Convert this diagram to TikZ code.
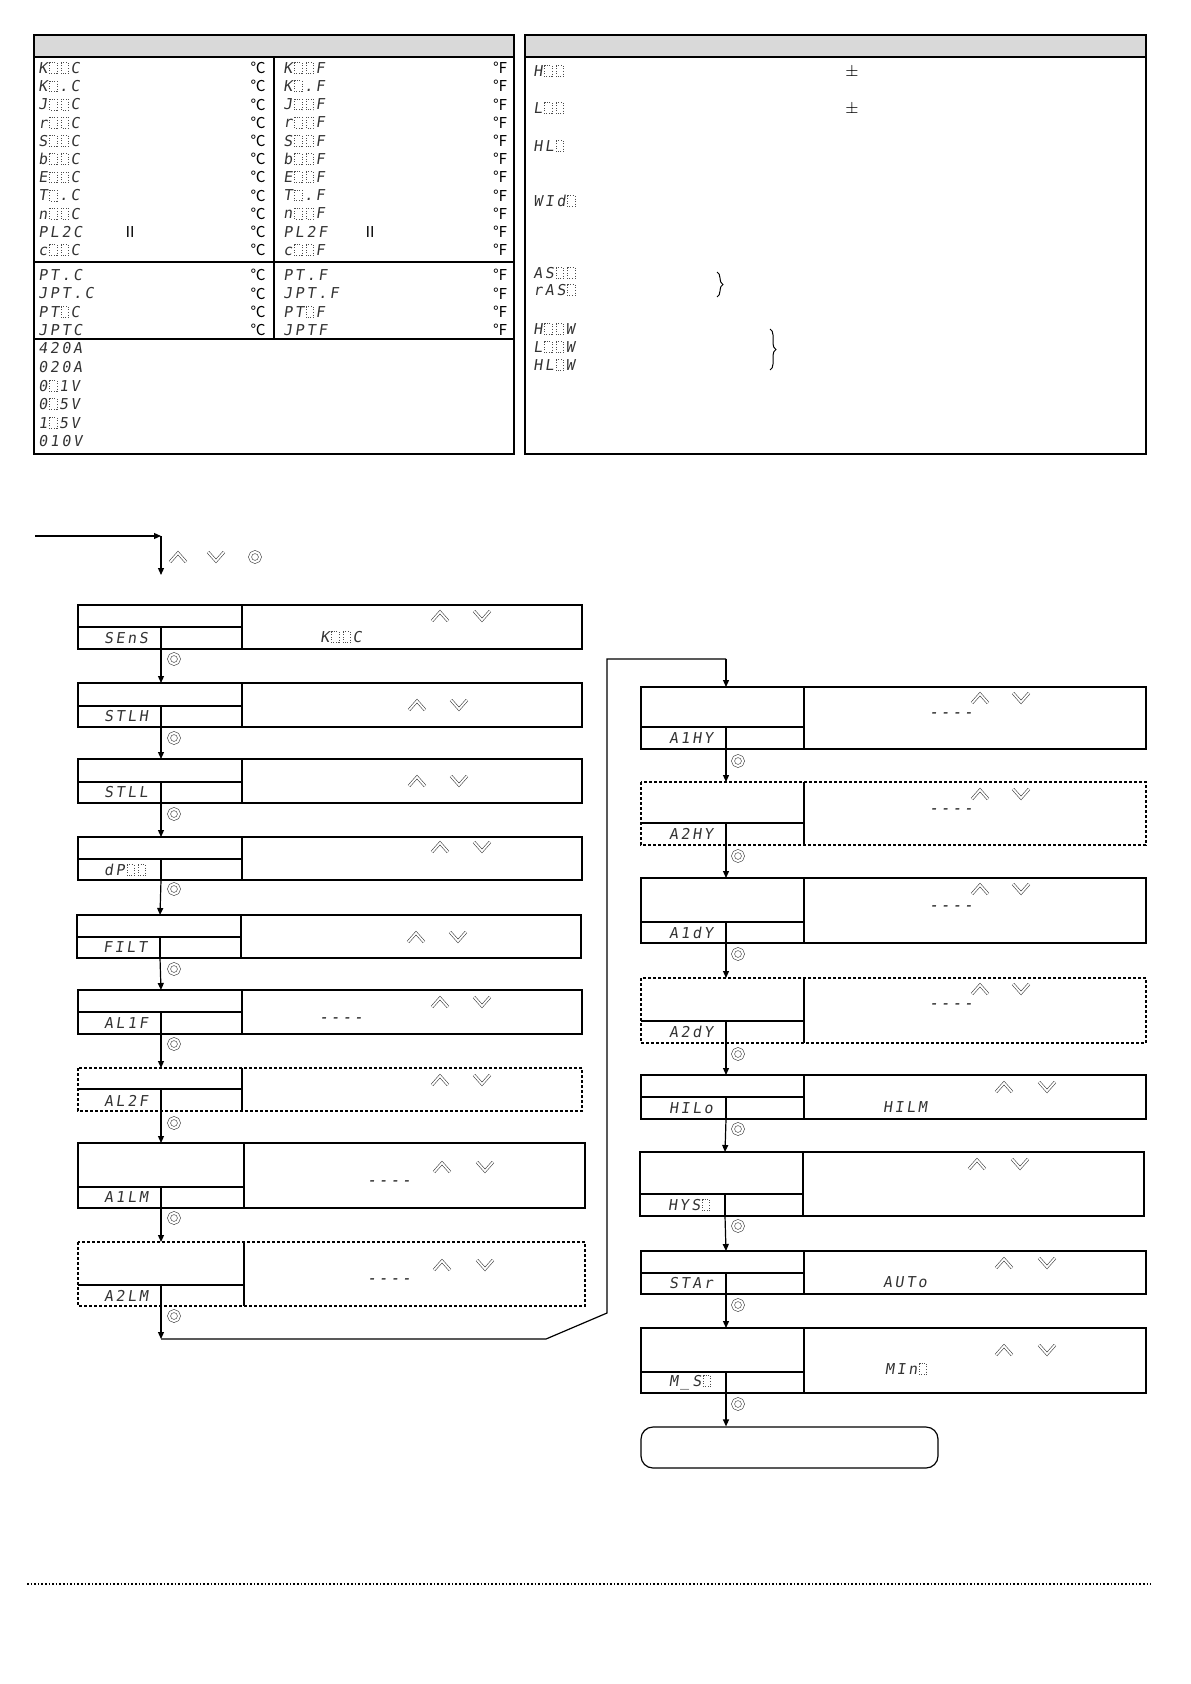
\documentclass[tikz,border=0pt]{standalone}
\usepackage{fontspec}
\usetikzlibrary{arrows.meta,decorations.pathreplacing}
\newfontfamily\segfont[FakeSlant=0.15,LetterSpace=17]{DejaVu Sans Mono}
\newfontfamily\cjk{Noto Sans CJK SC}
\newcommand\bk{\makebox[0.772em][c]{\tikz[baseline=0pt]\draw[densely dotted,line width=0.3pt,black!70] (0pt,0pt) rectangle (3.6pt,5.4pt);}}
\tikzset{
  ln/.style={line width=0.6pt},
  dsh/.style={dash pattern=on 1.5pt off 1pt},
  seg/.style={font=\segfont\fontsize{7.5}{9}\selectfont, text=black!80, inner sep=0pt},
  unit/.style={font=\cjk\fontsize{7.5}{8}\selectfont, inner sep=0pt},
  chev/.style={draw=black!75, line width=0.3pt, double=white, double distance=0.9pt},
  arr/.style={line width=0.6pt, -{Triangle[length=3.5pt,width=3pt]}},
}
\newcommand\upk[2]{\draw[chev] (#1-8,#2+5) -- (#1,#2-4) -- (#1+8,#2+5);}
\newcommand\dnk[2]{\draw[chev] (#1-8,#2-5) -- (#1,#2+4) -- (#1+8,#2-5);}
\newcommand\okb[2]{\draw[chev,double distance=1.1pt] (#1,#2) circle (5);}
\newcommand\pbox[9]{%
  \draw[ln,#9] (#2,#6) rectangle (#3,#8);
  \draw[ln] (#2,#7) -- (#4,#7) (#4,#6) -- (#4,#8) (#5,#7) -- (#5,#8);
  \coordinate (#1t) at (#5,#6); \coordinate (#1b) at (#5,#8);}
\begin{document}
\begin{tikzpicture}[x=0.5pt,y=-0.5pt]
\useasboundingbox (0,0) rectangle (1190,1684);
% ---------- table 1 ----------
\fill[black!15] (34,35) rectangle (514,57);
\draw[ln] (34,35) rectangle (514,454);
\draw[ln] (34,57) -- (514,57) (34,262) -- (514,262) (34,339) -- (514,339) (274,57) -- (274,339);
\foreach \t/\u/\y [count=\i] in {K\bk\bk C/K\bk\bk F/68, K\bk.C/K\bk.F/86.2, J\bk\bk C/J\bk\bk F/104.4, r\bk\bk C/r\bk\bk F/122.6, S\bk\bk C/S\bk\bk F/140.8, b\bk\bk C/b\bk\bk F/159, E\bk\bk C/E\bk\bk F/177.2, T\bk.C/T\bk.F/195.4, n\bk\bk C/n\bk\bk F/213.6, PL2C/PL2F/231.8, c\bk\bk C/c\bk\bk F/250}{
  \node[seg,anchor=west] (ta\i) at (38,\y) {\t};
  \node[unit] (ua\i) at (258,\y) {℃};
  \node[seg,anchor=west] (tf\i) at (283,\y) {\u};
  \node[unit] (uf\i) at (500,\y) {℉};
}
\node[unit] (twoa) at (130,231.8) {Ⅱ};
\node[unit] (twob) at (370,231.8) {Ⅱ};
\foreach \t/\u/\y [count=\i] in {PT.C/PT.F/275, JPT.C/JPT.F/293.5, PT\bk C/PT\bk F/312, JPTC/JPTF/330}{
  \node[seg,anchor=west] (tb\i) at (38,\y) {\t};
  \node[unit] (ub\i) at (258,\y) {℃};
  \node[seg,anchor=west] (tg\i) at (283,\y) {\u};
  \node[unit] (ug\i) at (500,\y) {℉};
}
\foreach \t/\y [count=\i] in {420A/348, 020A/367, 0\bk 1V/386, 0\bk 5V/404, 1\bk 5V/423, 010V/441}{
  \node[seg,anchor=west] (tv\i) at (38,\y) {\t};
}
% ---------- table 2 ----------
\fill[black!15] (525,35) rectangle (1146,57);
\draw[ln] (525,35) rectangle (1146,454);
\draw[ln] (525,57) -- (1146,57);
\foreach \t/\y [count=\i] in {H\bk\bk/71, L\bk\bk/108, HL\bk/146, WId\bk/201, AS\bk\bk/273, rAS\bk/290, H\bk\bk W/329, L\bk\bk W/347, HL\bk W/365}{
  \node[seg,anchor=west] (tr\i) at (533,\y) {\t};
}
\node[inner sep=0pt,font=\fontsize{8}{9}\selectfont] (pm1) at (852,71) {±};
\node[inner sep=0pt,font=\fontsize{8}{9}\selectfont] (pm2) at (852,108) {±};
\draw[line width=0.5pt,decorate,decoration={brace,amplitude=3pt}] (717,272) -- (717,297);
\draw[line width=0.5pt,decorate,decoration={brace,amplitude=3pt}] (770,329) -- (770,370);
% ---------- entry ----------
\coordinate (in0) at (35,536);
\coordinate (in1) at (161,536);
\coordinate (in2) at (161,575);
\draw[arr] (in0) -- (in1);
\draw[arr] (in1) -- (in2);
\upk{178}{557} \dnk{216}{557} \okb{255}{557}
% ---------- left column ----------
\pbox{b1}{78}{582}{242}{161}{605}{627}{649}{}
\pbox{b2}{78}{582}{242}{161}{683}{706}{727}{}
\pbox{b3}{78}{582}{242}{161}{759}{782}{803}{}
\pbox{b4}{78}{582}{242}{161}{837}{859}{880}{}
\pbox{b5}{77}{581}{241}{160}{915}{937}{958}{}
\pbox{b6}{78}{582}{242}{161}{990}{1012}{1034}{}
\pbox{b7}{78}{582}{242}{161}{1068}{1089}{1111}{dsh}
\pbox{b8}{78}{585}{244}{161}{1143}{1187}{1208}{}
\pbox{b9}{78}{585}{244}{161}{1242}{1285}{1306}{dsh}
\node[seg] (l1) at (126,638) {SEnS};
\node[seg] (l2) at (126,716.5) {STLH};
\node[seg] (l3) at (126,792.5) {STLL};
\node[seg] (l4) at (126,870) {dP\bk\bk};
\node[seg] (l5) at (125,947.5) {FILT};
\node[seg] (l6) at (126,1023) {AL1F};
\node[seg] (l7) at (126,1100.5) {AL2F};
\node[seg] (l8) at (126,1197.5) {A1LM};
\node[seg] (l9) at (126,1295.5) {A2LM};
\upk{440}{616} \dnk{482}{616}
\node[seg] (v1) at (341,637) {K\bk\bk C};
\upk{417}{705} \dnk{459}{705}
\upk{417}{781} \dnk{459}{781}
\upk{440}{847} \dnk{482}{847}
\upk{416}{937} \dnk{458}{937}
\upk{440}{1002} \dnk{482}{1002}
\node[seg,text=black] (v6) at (341,1020) {----};
\upk{440}{1080} \dnk{482}{1080}
\upk{442}{1167} \dnk{485}{1167}
\node[seg,text=black] (v8) at (389,1183) {----};
\upk{442}{1265} \dnk{485}{1265}
\node[seg,text=black] (v9) at (389,1281) {----};
\draw[arr] (b1b) -- (b2t); \okb{174}{659}
\draw[arr] (b2b) -- (b3t); \okb{174}{738}
\draw[arr] (b3b) -- (b4t); \okb{174}{814}
\draw[arr] (b4b) -- (b5t); \okb{174}{889}
\draw[arr] (b5b) -- (b6t); \okb{174}{969}
\draw[arr] (b6b) -- (b7t); \okb{174}{1044}
\draw[arr] (b7b) -- (b8t); \okb{174}{1123}
\draw[arr] (b8b) -- (b9t); \okb{174}{1218}
\okb{174}{1316}
% ---------- loop connector ----------
\coordinate (c1) at (161,1339);
\coordinate (c2) at (546,1339);
\coordinate (c3) at (607,1313);
\coordinate (c4) at (607,659);
\coordinate (c5) at (726,659);
\draw[arr] (b9b) -- (c1);
\draw[ln] (c1) -- (c2) -- (c3) -- (c4) -- (c5);
% ---------- right column ----------
\pbox{b10}{641}{1146}{804}{726}{687}{727}{749}{}
\pbox{b11}{641}{1146}{804}{726}{782}{823}{845}{dsh}
\pbox{b12}{641}{1146}{804}{726}{878}{922}{943}{}
\pbox{b13}{641}{1146}{804}{726}{978}{1021}{1043}{dsh}
\pbox{b14}{641}{1146}{804}{726}{1075}{1097}{1119}{}
\pbox{b15}{640}{1144}{803}{725}{1152}{1194}{1216}{}
\pbox{b16}{641}{1146}{804}{726}{1251}{1273}{1294}{}
\pbox{b17}{641}{1146}{804}{726}{1328}{1372}{1393}{}
\draw[arr] (c5) -- (b10t);
\node[seg] (l10) at (691,738) {A1HY};
\node[seg] (l11) at (691,834) {A2HY};
\node[seg] (l12) at (691,932.5) {A1dY};
\node[seg] (l13) at (691,1032) {A2dY};
\node[seg] (l14) at (691,1108) {HILo};
\node[seg] (l15) at (690,1205) {HYS\bk};
\node[seg] (l16) at (691,1283.5) {STAr};
\node[seg] (l17) at (691,1382.5) {M\_S\bk};
\upk{980}{698} \dnk{1021}{698}
\node[seg,text=black] (v10) at (951,715) {----};
\upk{980}{794} \dnk{1021}{794}
\node[seg,text=black] (v11) at (951,811) {----};
\upk{980}{889} \dnk{1021}{889}
\node[seg,text=black] (v12) at (951,908) {----};
\upk{980}{989} \dnk{1021}{989}
\node[seg,text=black] (v13) at (951,1006) {----};
\upk{1004}{1087} \dnk{1047}{1087}
\node[seg] (v14) at (905,1107) {HILM};
\upk{977}{1164} \dnk{1020}{1164}
\upk{1004}{1263} \dnk{1047}{1263}
\node[seg] (v16) at (905,1282) {AUTo};
\upk{1004}{1350} \dnk{1047}{1350}
\node[seg] (v17) at (907,1369) {MIn\bk};
\node[ln,draw,rounded corners=6pt,minimum width=148.5pt,minimum height=20.5pt,inner sep=0pt] (end) at (789.5,1447.5) {};
\draw[arr] (b10b) -- (b11t); \okb{738}{761}
\draw[arr] (b11b) -- (b12t); \okb{738}{856}
\draw[arr] (b12b) -- (b13t); \okb{738}{954}
\draw[arr] (b13b) -- (b14t); \okb{738}{1054}
\draw[arr] (b14b) -- (b15t); \okb{738}{1129}
\draw[arr] (b15b) -- (b16t); \okb{738}{1226}
\draw[arr] (b16b) -- (b17t); \okb{738}{1305}
\draw[arr] (b17b) -- (b17b |- end.north); \okb{738}{1404}
% ---------- bottom rule ----------
\draw[densely dotted,line width=0.8pt] (27,1584) -- (1151,1584);
\end{tikzpicture}
\end{document}
